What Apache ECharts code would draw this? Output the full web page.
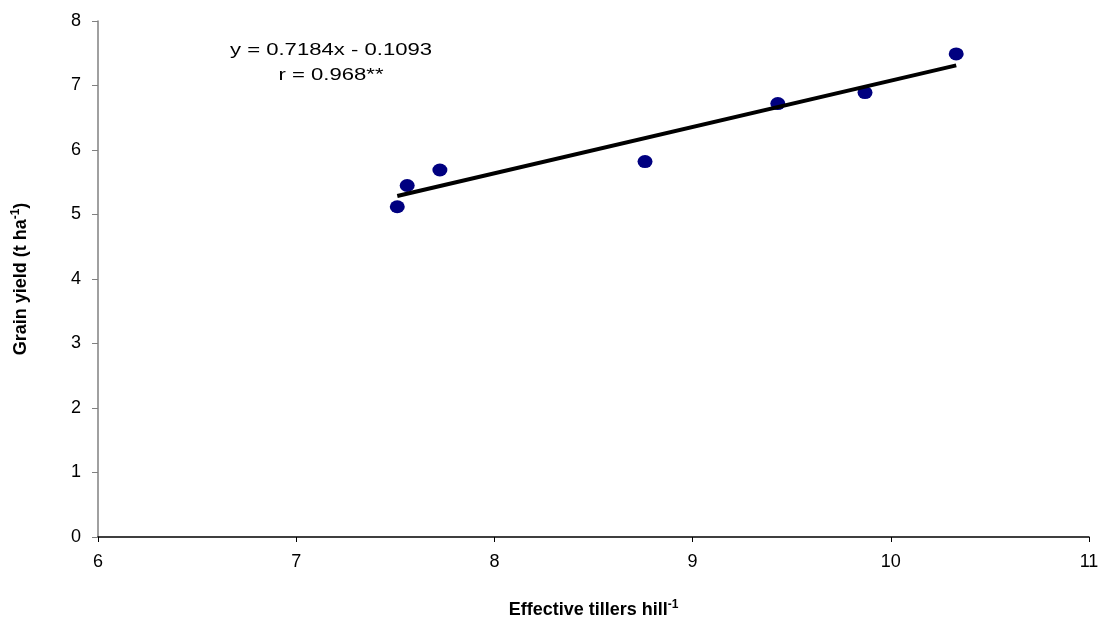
<!DOCTYPE html>
<html>
<head>
<meta charset="utf-8">
<script src="https://cdn.jsdelivr.net/npm/echarts@6/dist/echarts.min.js"></script>
<style>
html,body{margin:0;padding:0;background:#fff;}
#chart{width:1102px;height:619px;}
</style>
</head>
<body>
<div id="chart"></div>
<script>
var tillers = [7.51, 7.56, 7.725, 8.76, 9.43, 9.87, 10.33];
var grainYield = [5.12, 5.45, 5.69, 5.82, 6.72, 6.89, 7.49];
var slope = 0.7184;
var intercept = -0.1093;
var xTicks = [6, 7, 8, 9, 10, 11];
var yTicks = [0, 1, 2, 3, 4, 5, 6, 7, 8];

var pts = tillers.map(function (x, i) { return [x, grainYield[i]]; });
var xMin = Math.min.apply(null, tillers), xMax = Math.max.apply(null, tillers);
var trend = [[xMin, slope * xMin + intercept], [xMax, slope * xMax + intercept]];

var FONT = '"Liberation Sans", Arial, sans-serif';
var chart = echarts.init(document.getElementById('chart'));
chart.setOption({
  animation: false,
  backgroundColor: '#fff',
  grid: { left: 98, right: 13, top: 21, bottom: 82, containLabel: false, outerBoundsMode: 'none' },
  xAxis: {
    type: 'value', min: xTicks[0], max: xTicks[xTicks.length - 1], interval: 1,
    splitLine: { show: false },
    axisLine: { onZero: false, lineStyle: { color: '#000', width: 1.5 } },
    axisTick: { show: true, length: 5, lineStyle: { color: '#000' } },
    axisLabel: { color: '#000', fontSize: 18, fontFamily: FONT, margin: 16 },
    name: '{b|Effective tillers hill}{s|-1}',
    nameLocation: 'middle', nameGap: 62,
    nameTextStyle: {
      rich: {
        b: { fontSize: 18, fontWeight: 'bold', fontFamily: FONT, color: '#000' },
        s: { fontSize: 12, fontWeight: 'bold', fontFamily: FONT, color: '#000', padding: [0, 0, 10, 0] }
      }
    }
  },
  yAxis: {
    type: 'value', min: yTicks[0], max: yTicks[yTicks.length - 1], interval: 1,
    splitLine: { show: false },
    axisLine: { show: true, lineStyle: { color: '#808080', width: 1.5 } },
    axisTick: { show: true, length: 6, lineStyle: { color: '#808080' } },
    axisLabel: { color: '#000', fontSize: 18, fontFamily: FONT, margin: 17 },
    name: '{b|Grain yield (t ha}{s|-1}{b|)}',
    nameLocation: 'middle', nameGap: 66, nameRotate: 90,
    nameTextStyle: {
      rich: {
        b: { fontSize: 18, fontWeight: 'bold', fontFamily: FONT, color: '#000' },
        s: { fontSize: 12, fontWeight: 'bold', fontFamily: FONT, color: '#000', padding: [0, 0, 10, 0] }
      }
    }
  },
  graphic: [{
    type: 'text', x: 331, y: 38, scaleX: 1.3, originX: 0,
    style: {
      text: 'y = 0.7184x - 0.1093\nr = 0.968**',
      align: 'center',
      font: '17px "Liberation Sans", Arial, sans-serif',
      fill: '#000', lineHeight: 25
    }
  }],
  series: [{
    type: 'line', data: trend, symbol: 'none',
    lineStyle: { color: '#000', width: 4 }, z: 3
  }, {
    type: 'scatter', data: pts, symbol: 'circle', symbolSize: [15, 13],
    itemStyle: { color: '#000080', opacity: 1 }, z: 2
  }]
});
</script>
</body>
</html>
